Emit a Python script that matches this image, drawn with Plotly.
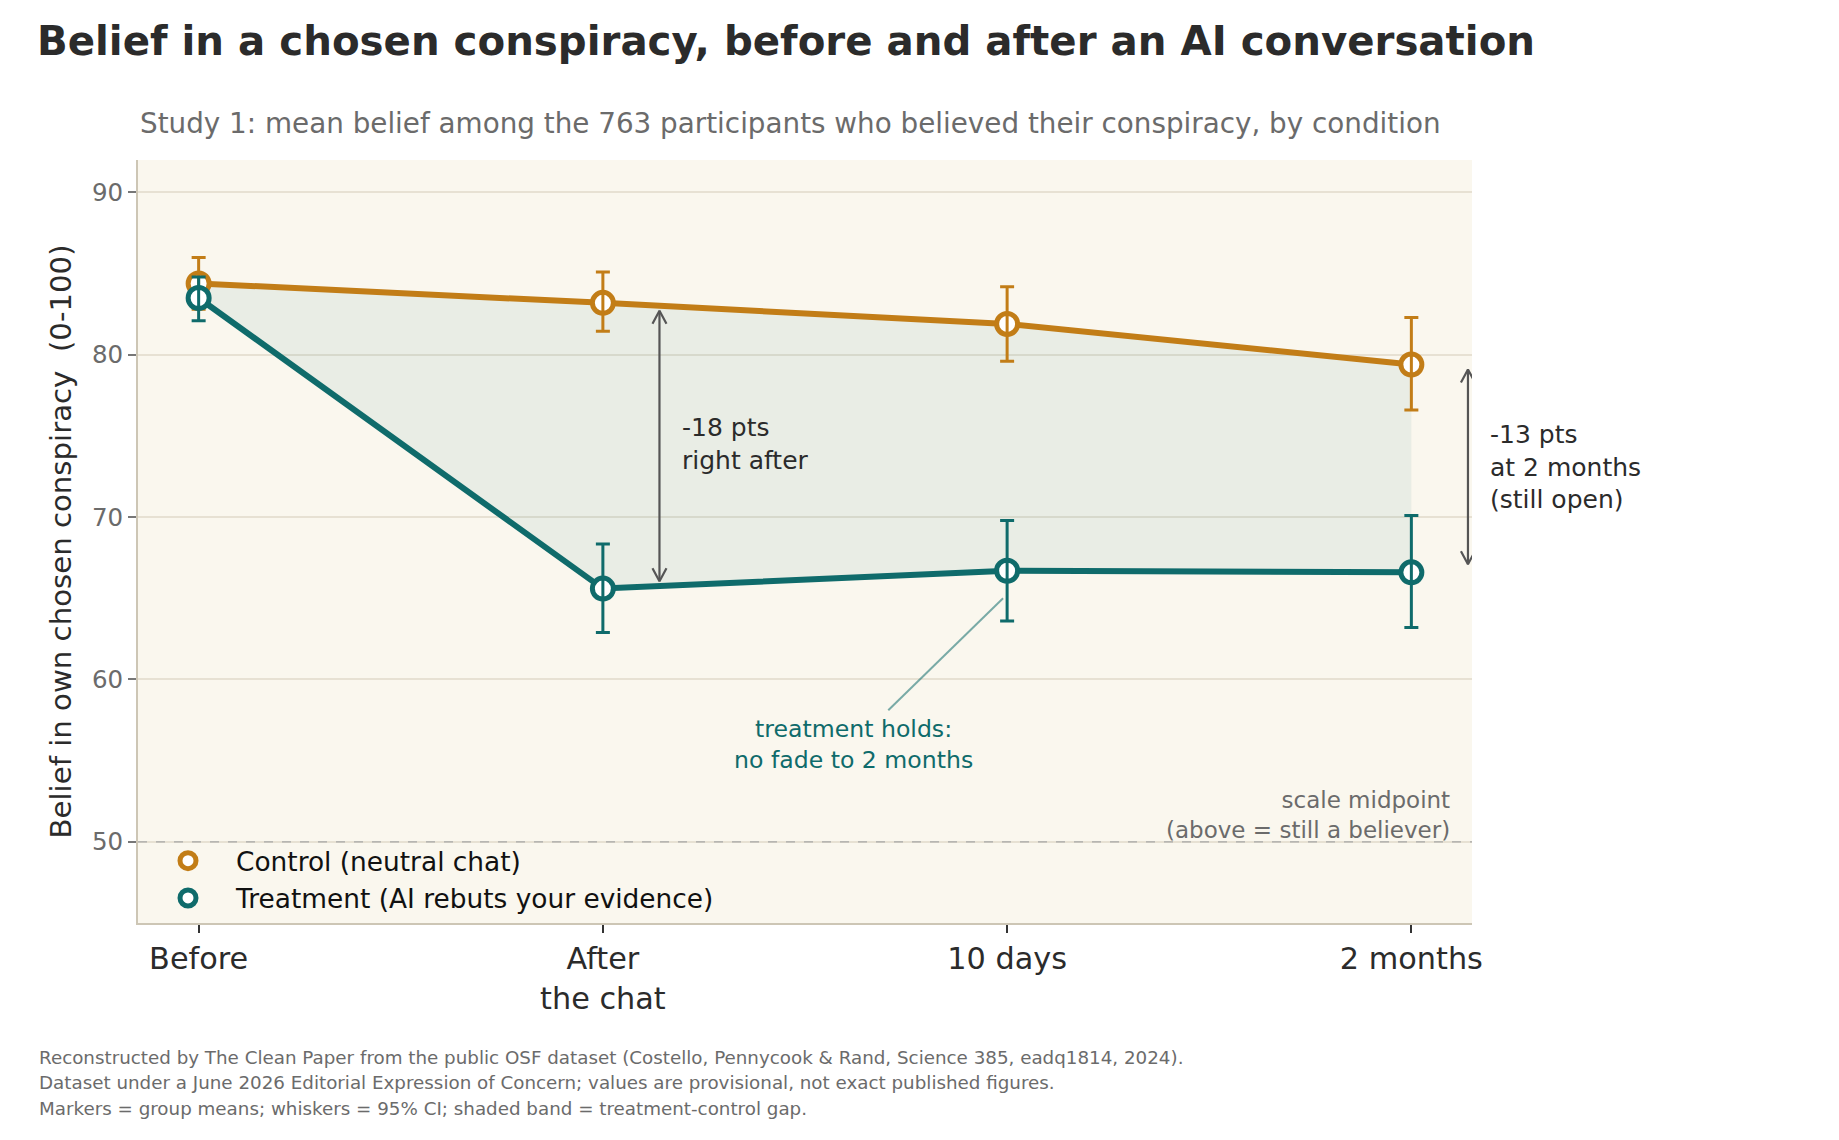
import plotly.graph_objects as go

# ---------------- data ----------------
timepoints = ["Before", "After<br>the chat", "10 days", "2 months"]
x_pos = [0, 1, 2, 3]

control_mean = [84.4, 83.2, 81.9, 79.4]
control_lo = [82.8, 81.45, 79.6, 76.6]
control_hi = [86.0, 85.1, 84.2, 82.3]

treat_mean = [83.5, 65.6, 66.7, 66.6]
treat_lo = [82.1, 62.9, 63.6, 63.2]
treat_hi = [84.8, 68.35, 69.8, 70.1]

y_ticks = [50, 60, 70, 80, 90]
midpoint = 50

# ---------------- style ----------------
ORANGE = "#C27D17"
TEAL = "#0F6B6B"
BG = "#FAF7EE"
DARK = "#2B2B2B"
GREY = "#6B6B6B"
FONT = "DejaVu Sans"

X_RANGE = [-0.15, 3.15]
Y_RANGE = [45, 92]
W, H = 1839, 1140
ML, MR, MT, MB = 138, 367, 160, 217
PW, PH = W - ML - MR, H - MT - MB
PX_X = (X_RANGE[1] - X_RANGE[0]) / PW
PX_Y = (Y_RANGE[1] - Y_RANGE[0]) / PH


def px_to_paper(xp, yp):
    return (xp - ML) / PW, (H - MB - yp) / PH


fig = go.Figure()

# shaded gap band
fig.add_trace(go.Scatter(x=x_pos, y=control_mean, mode="lines",
                         line=dict(width=0, color="rgba(0,0,0,0)"),
                         showlegend=False, hoverinfo="skip"))
fig.add_trace(go.Scatter(x=x_pos, y=treat_mean, mode="lines",
                         line=dict(width=0, color="rgba(0,0,0,0)"),
                         fill="tonexty", fillcolor="rgba(15,107,107,0.07)",
                         showlegend=False, hoverinfo="skip"))


def add_series(means, lo, hi, color):
    fig.add_trace(go.Scatter(
        x=x_pos, y=means, mode="lines+markers",
        line=dict(color=color, width=6),
        marker=dict(symbol="circle", size=21, color="white",
                    line=dict(color=color, width=5)),
        showlegend=False, hoverinfo="skip"))
    fig.add_trace(go.Scatter(
        x=x_pos, y=means, mode="markers",
        marker=dict(size=1, color="rgba(0,0,0,0)"),
        error_y=dict(type="data", symmetric=False,
                     array=[h - m for h, m in zip(hi, means)],
                     arrayminus=[m - l for m, l in zip(means, lo)],
                     color=color, thickness=3, width=7),
        showlegend=False, hoverinfo="skip"))


add_series(control_mean, control_lo, control_hi, ORANGE)
add_series(treat_mean, treat_lo, treat_hi, TEAL)

# legend entries
for i, (name, color) in enumerate([("Control (neutral chat)", ORANGE),
                                   ("Treatment (AI rebuts your evidence)", TEAL)]):
    fig.add_trace(go.Scatter(
        x=[None], y=[None], mode="markers", name=name, legendgroup=f"g{i}",
        marker=dict(symbol="circle", size=18, color="white",
                    line=dict(color=color, width=5))))


# double-headed arrows
def add_double_arrow(x, y0, y1):
    dx, dy = 7 * PX_X, 13 * PX_Y
    xs = [x, x, None,
          x - dx, x, x + dx, None,
          x - dx, x, x + dx]
    ys = [y0, y1, None,
          y1 - dy, y1, y1 - dy, None,
          y0 + dy, y0, y0 + dy]
    fig.add_trace(go.Scatter(x=xs, y=ys, mode="lines",
                             line=dict(color="#555555", width=2.2),
                             showlegend=False, hoverinfo="skip"))


ARROW1_X = 1.14
ARROW2_X = 3.14
c1 = control_mean[1] + (ARROW1_X - 1) * (control_mean[2] - control_mean[1])
t1 = treat_mean[1] + (ARROW1_X - 1) * (treat_mean[2] - treat_mean[1])
add_double_arrow(ARROW1_X, t1 + 0.3, c1 - 0.3)
add_double_arrow(ARROW2_X, treat_mean[3] + 0.5, control_mean[3] - 0.3)

# pointer line for treatment note
POINTER_X = [1.706, 1.99]
POINTER_Y = [58.1, 65.0]
fig.add_trace(go.Scatter(x=POINTER_X, y=POINTER_Y, mode="lines",
                         line=dict(color="rgba(15,107,107,0.55)", width=2),
                         showlegend=False, hoverinfo="skip"))

# midpoint line
fig.add_shape(type="line", xref="paper", x0=0, x1=1, yref="y",
              y0=midpoint, y1=midpoint,
              line=dict(color="#A8A8A8", width=1.3, dash="dash"))

gx, gy = px_to_paper(1488, 467)
sx, sy = px_to_paper(138, 123)
annos = [
    dict(x=1.19, y=74.5, xref="x", yref="y", xanchor="left", yanchor="middle",
         text="-18 pts<br>right after", align="left",
         font=dict(size=25, color=DARK)),
    dict(x=gx, y=gy, xref="paper", yref="paper", xanchor="left", yanchor="middle",
         text="-13 pts<br>at 2 months<br>(still open)", align="left",
         font=dict(size=25, color=DARK)),
    dict(x=1.62, y=56.0, xref="x", yref="y", xanchor="center", yanchor="middle",
         text="treatment holds:<br>no fade to 2 months", align="center",
         font=dict(size=23.6, color=TEAL)),
    dict(x=3.10, y=49.8, xref="x", yref="y", xanchor="right", yanchor="bottom",
         text="scale midpoint<br>(above = still a believer)", align="right",
         font=dict(size=23, color=GREY)),
    dict(x=sx, y=sy, xref="paper", yref="paper", xanchor="left", yanchor="middle",
         text="Study 1: mean belief among the 763 participants who believed their conspiracy, by condition",
         font=dict(size=27.8, color=GREY)),
]
footer = [
    "Reconstructed by The Clean Paper from the public OSF dataset (Costello, Pennycook & Rand, Science 385, eadq1814, 2024).",
    "Dataset under a June 2026 Editorial Expression of Concern; values are provisional, not exact published figures.",
    "Markers = group means; whiskers = 95% CI; shaded band = treatment-control gap.",
]
for i, line in enumerate(footer):
    fx, fy = px_to_paper(37, 1057 + i * 25.8)
    annos.append(dict(x=fx, y=fy, xref="paper", yref="paper",
                      xanchor="left", yanchor="middle", text=line,
                      font=dict(size=18.3, color=GREY)))
for a in annos:
    a["showarrow"] = False
    fig.add_annotation(**a)

lx, ly = px_to_paper(140, 923 - 1)

fig.update_layout(
    width=W, height=H,
    margin=dict(l=ML, r=MR, t=MT, b=MB),
    paper_bgcolor="white", plot_bgcolor=BG,
    font=dict(family=FONT, color=DARK),
    title=dict(text="<b>Belief in a chosen conspiracy, before and after an AI conversation</b>",
               x=37 / W, xanchor="left", y=1 - 41 / H, yanchor="middle", yref="container",
               font=dict(size=40.3, color=DARK, family=FONT)),
    showlegend=True,
    legend=dict(x=lx, y=ly, xanchor="left", yanchor="bottom",
                bgcolor="rgba(0,0,0,0)", font=dict(size=26.4, color="#111111"),
                itemwidth=86, tracegroupgap=5, traceorder="normal"),
    xaxis=dict(range=X_RANGE, tickvals=x_pos, ticktext=timepoints,
               showgrid=False, zeroline=False, showline=True,
               linecolor="#CDC6B5", linewidth=2, mirror=False,
               ticks="outside", ticklen=8, tickwidth=2, tickcolor="#333333",
               tickfont=dict(size=30.3, color=DARK)),
    yaxis=dict(range=Y_RANGE, tickvals=y_ticks,
               showgrid=True, gridcolor="#E7E1D3", gridwidth=1.6, zeroline=False,
               showline=True, linecolor="#CDC6B5", linewidth=2,
               ticks="outside", ticklen=8, tickwidth=2, tickcolor="#777777",
               tickfont=dict(size=24.5, color=GREY),
               title=dict(text="Belief in own chosen conspiracy\u00a0 (0-100)",
                          font=dict(size=29.2, color=DARK), standoff=12)),
)

fig.write_html("out.html")
